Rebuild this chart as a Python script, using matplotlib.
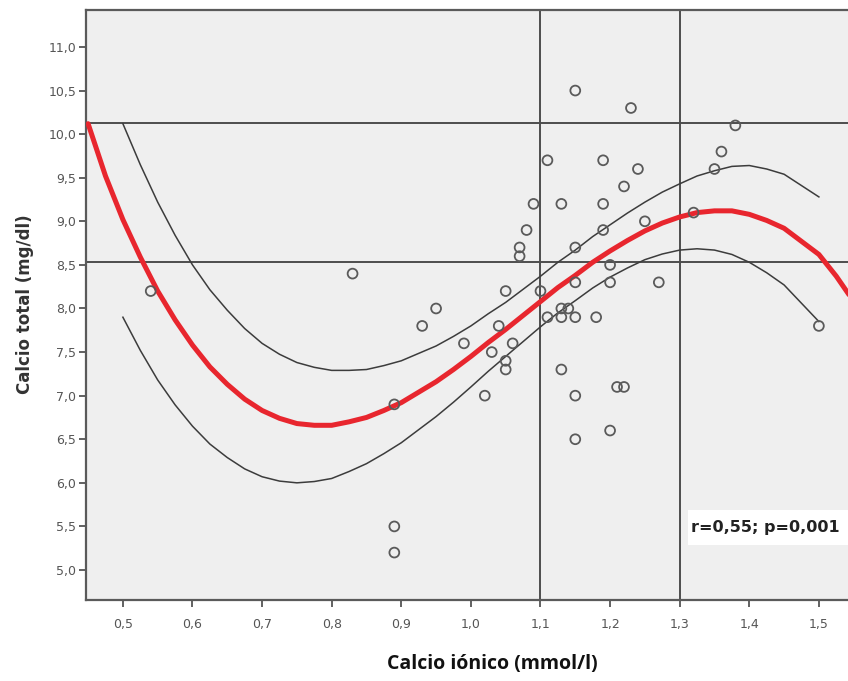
import matplotlib
matplotlib.use("Agg")
import matplotlib.pyplot as plt
from matplotlib.patches import Rectangle

# ---------------- data ----------------
calcio_ionico = [0.54, 0.83, 0.89, 0.89, 0.89, 0.93, 0.95, 0.99, 1.02, 1.03,
                 1.04, 1.05, 1.05, 1.05, 1.06, 1.07, 1.07, 1.08, 1.09, 1.10,
                 1.11, 1.11, 1.13, 1.13, 1.13, 1.13, 1.14, 1.15, 1.15, 1.15,
                 1.15, 1.15, 1.15, 1.18, 1.19, 1.19, 1.19, 1.20, 1.20, 1.20,
                 1.21, 1.22, 1.22, 1.23, 1.24, 1.25, 1.27, 1.32, 1.35, 1.36,
                 1.38, 1.50]
calcio_total = [8.2, 8.4, 6.9, 5.5, 5.2, 7.8, 8.0, 7.6, 7.0, 7.5,
                7.8, 8.2, 7.4, 7.3, 7.6, 8.7, 8.6, 8.9, 9.2, 8.2,
                9.7, 7.9, 9.2, 8.0, 7.9, 7.3, 8.0, 10.5, 8.7, 8.3,
                7.9, 7.0, 6.5, 7.9, 9.7, 9.2, 8.9, 8.5, 8.3, 6.6,
                7.1, 7.1, 9.4, 10.3, 9.6, 9.0, 8.3, 9.1, 9.6, 9.8,
                10.1, 7.8]

# fitted curve
fit_x = [0.45, 0.475, 0.50, 0.525, 0.55, 0.575, 0.60, 0.625, 0.65, 0.675,
         0.70, 0.725, 0.75, 0.775, 0.80, 0.825, 0.85, 0.875, 0.90, 0.925,
         0.95, 0.975, 1.00, 1.025, 1.05, 1.075, 1.10, 1.125, 1.15, 1.175,
         1.20, 1.225, 1.25, 1.275, 1.30, 1.325, 1.35, 1.375, 1.40, 1.425,
         1.45, 1.475, 1.50, 1.525, 1.55]
fit_y = [10.12, 9.52, 9.02, 8.59, 8.20, 7.87, 7.58, 7.33, 7.13, 6.96,
         6.83, 6.74, 6.68, 6.66, 6.66, 6.70, 6.75, 6.83, 6.92, 7.04,
         7.16, 7.30, 7.45, 7.61, 7.76, 7.92, 8.08, 8.24, 8.38, 8.53,
         8.66, 8.78, 8.89, 8.98, 9.05, 9.10, 9.12, 9.12, 9.08, 9.01,
         8.92, 8.77, 8.62, 8.37, 8.08]

# confidence band
band_x = [0.50, 0.525, 0.55, 0.575, 0.60, 0.625, 0.65, 0.675, 0.70, 0.725,
          0.75, 0.775, 0.80, 0.825, 0.85, 0.875, 0.90, 0.925, 0.95, 0.975,
          1.00, 1.025, 1.05, 1.075, 1.10, 1.125, 1.15, 1.175, 1.20, 1.225,
          1.25, 1.275, 1.30, 1.325, 1.35, 1.375, 1.40, 1.425, 1.45, 1.475, 1.50]
band_upper = [10.12, 9.65, 9.22, 8.84, 8.50, 8.215, 7.98, 7.77, 7.60, 7.475,
              7.38, 7.325, 7.29, 7.29, 7.30, 7.345, 7.40, 7.485, 7.57, 7.68,
              7.80, 7.94, 8.07, 8.22, 8.37, 8.53, 8.67, 8.825, 8.96, 9.095,
              9.22, 9.335, 9.43, 9.52, 9.58, 9.63, 9.64, 9.60, 9.54, 9.41, 9.28]
band_lower = [7.90, 7.52, 7.18, 6.895, 6.65, 6.445, 6.29, 6.16, 6.07, 6.02,
              6.00, 6.015, 6.05, 6.13, 6.22, 6.335, 6.46, 6.61, 6.76, 6.925,
              7.10, 7.28, 7.45, 7.62, 7.79, 7.95, 8.09, 8.235, 8.36, 8.465,
              8.56, 8.625, 8.67, 8.685, 8.67, 8.62, 8.53, 8.41, 8.27, 8.06, 7.85]

ref_hlines = [10.13, 8.53]
ref_vlines = [1.1, 1.3]

xticks = [0.5, 0.6, 0.7, 0.8, 0.9, 1.0, 1.1, 1.2, 1.3, 1.4, 1.5]
xtick_labels = ["0,5", "0,6", "0,7", "0,8", "0,9", "1,0", "1,1", "1,2", "1,3", "1,4", "1,5"]
yticks = [5.0, 5.5, 6.0, 6.5, 7.0, 7.5, 8.0, 8.5, 9.0, 9.5, 10.0, 10.5, 11.0]
ytick_labels = ["5,0", "5,5", "6,0", "6,5", "7,0", "7,5", "8,0", "8,5", "9,0", "9,5", "10,0", "10,5", "11,0"]

annotation = "r=0,55; p=0,001"
xlabel = "Calcio iónico (mmol/l)"
ylabel = "Calcio total (mg/dl)"

# ---------------- figure ----------------
W, H = 848, 681
fig = plt.figure(figsize=(W / 100, H / 100), dpi=100)
fig.patch.set_facecolor("white")

# axes extends beyond right edge of figure (cropped like the original)
x_left, x_right = 0.447, 1.56
px_per_unit = 696.0
ax_w_px = (x_right - x_left) * px_per_unit
ax = fig.add_axes([86 / W, (H - 600) / H, ax_w_px / W, 590 / H])
ax.set_xlim(x_left, x_right)
ax.set_ylim(4.656, 11.424)
ax.set_facecolor("#efefef")

for sp in ax.spines.values():
    sp.set_color("#5a5a5a")
    sp.set_linewidth(1.6)

for y in ref_hlines:
    ax.axhline(y, color="#4d4d4d", lw=1.4, zorder=2)
for x in ref_vlines:
    ax.axvline(x, color="#4d4d4d", lw=1.4, zorder=2)

ax.plot(band_x, band_upper, color="#3c3c3c", lw=1.1, zorder=3)
ax.plot(band_x, band_lower, color="#3c3c3c", lw=1.1, zorder=3)
ax.plot(fit_x, fit_y, color="#e8262e", lw=3.6, zorder=4,
        solid_capstyle="round", solid_joinstyle="round")

ax.scatter(calcio_ionico, calcio_total, s=50, facecolors="none",
           edgecolors="#5a5a5a", linewidths=1.3, zorder=5)

ax.set_xticks(xticks)
ax.set_xticklabels(xtick_labels)
ax.set_yticks(yticks)
ax.set_yticklabels(ytick_labels)
ax.tick_params(axis="both", direction="out", length=5, width=1.3,
               color="#555555", labelcolor="#555555", labelsize=9)
ax.tick_params(axis="x", pad=8)
ax.tick_params(axis="y", pad=2)
for lab in ax.get_xticklabels() + ax.get_yticklabels():
    lab.set_family("DejaVu Sans")

# white box behind the annotation
ax.add_patch(Rectangle((1.312, 5.29), 0.4, 0.40, transform=ax.transData,
                       facecolor="white", edgecolor="none", zorder=6))
ax.text(1.316, 5.49, annotation, fontsize=11.5, color="#222222",
        family="DejaVu Sans", fontweight="bold", ha="left", va="center", zorder=7)

fig.text(25 / W, 1 - 304 / H, ylabel, rotation=90, ha="center", va="center",
         fontsize=12, fontweight="bold", family="DejaVu Sans", color="#333333")
fig.text(492 / W, 1 - 664 / H, xlabel, ha="center", va="center",
         fontsize=14, fontweight="bold", family="Open Sans", color="#111111")

fig.savefig("out.png", dpi=100)
